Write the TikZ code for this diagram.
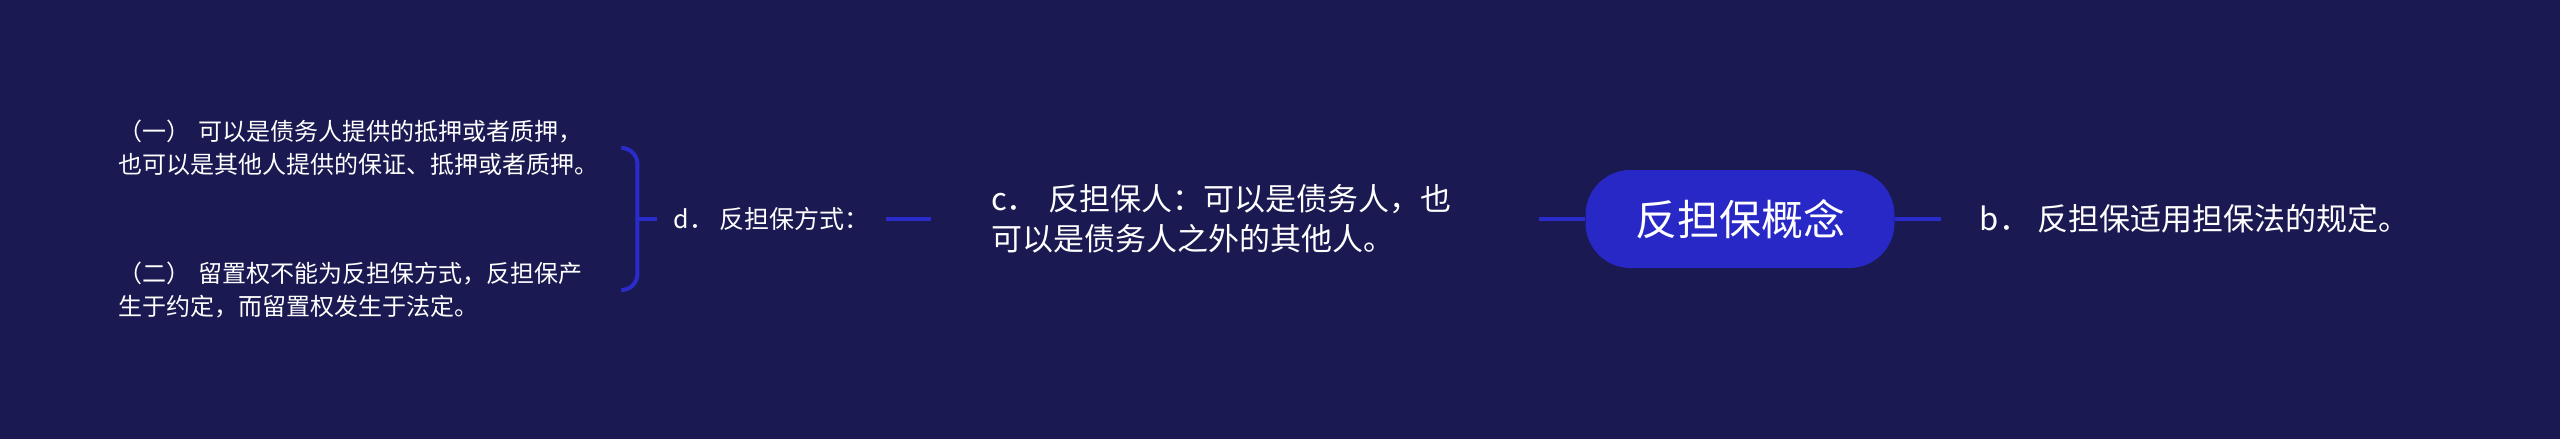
\documentclass[tikz,border=0pt]{standalone}
\usepackage{fontspec}
\setmainfont{Noto Sans CJK SC}
\usetikzlibrary{positioning}
\definecolor{bgnavy}{HTML}{1A1951}
\definecolor{nodeblue}{HTML}{2828C6}
\definecolor{lineblue}{HTML}{2B2BCC}

\begin{document}
\begin{tikzpicture}[x=1pt,y=-1pt,
  root/.style={fill=nodeblue,rounded corners=45pt,minimum width=309pt,minimum height=98pt,text=white,font=\fontsize{42}{50}\selectfont},
  topic/.style={text=white,align=left,font=\fontsize{31}{40}\selectfont},
  note/.style={text=white,align=left,text width=492pt,inner xsep=12pt,anchor=west,font=\fontsize{24}{33}\selectfont},
  link/.style={draw=lineblue,line width=4pt}]

\fill[bgnavy] (0,0) rectangle (2560,439);

\node[root] (root) at (1740,219) {反担保概念};

\node[topic,right=46pt of root,inner xsep=39pt] (b) {b． 反担保适用担保法的规定。};
\node[topic,left=46pt of root,text width=488pt,inner xsep=60pt] (c) {c． 反担保人：可以是债务人，也\\可以是债务人之外的其他人。};
\node[text=white,left=45pt of c,inner xsep=16pt,font=\fontsize{25}{30}\selectfont] (d) {d． 反担保方式：};
\coordinate[left=20pt of d] (brace);

\node[note] (i1) at (106,148) {（一） 可以是债务人提供的抵押或者质押，\\也可以是其他人提供的保证、抵押或者质押。};
\node[note] (i2) at (106,290) {（二） 留置权不能为反担保方式，反担保产\\生于约定，而留置权发生于法定。};

\draw[link] (root) -- (b);
\draw[link] (c) -- (root);
\draw[link] (d) -- (c);
\draw[link] (brace) -- (d);
\draw[link,rounded corners=16pt] (i1.east) -| (brace) |- (i2.east);

\end{tikzpicture}
\end{document}
